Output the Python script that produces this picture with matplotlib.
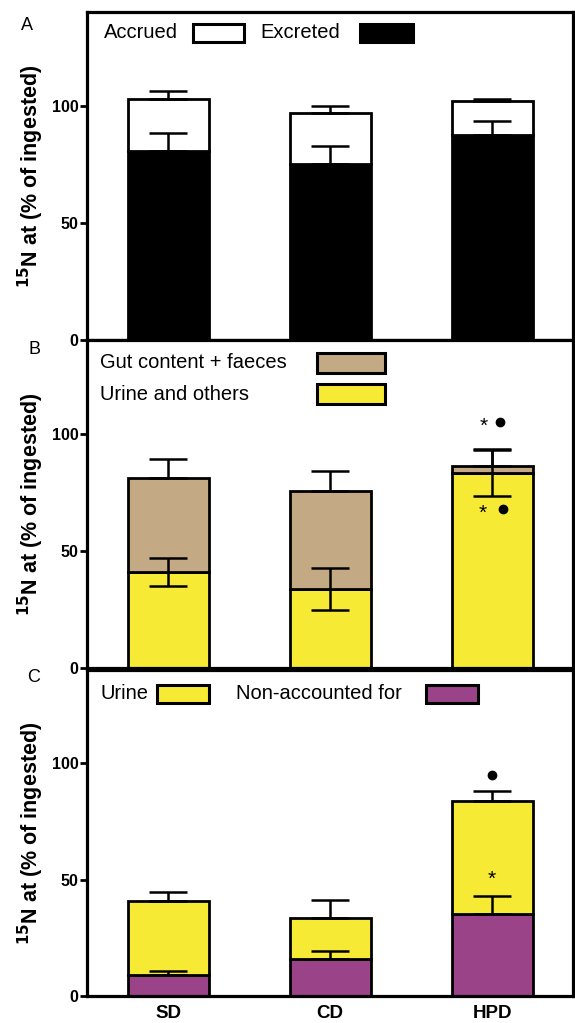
import numpy as np
import matplotlib
matplotlib.use("Agg")
import matplotlib.pyplot as plt
from matplotlib.patches import Rectangle

plt.rcParams['font.family'] = ['Liberation Sans', 'DejaVu Sans']

groups = ['SD', 'CD', 'HPD']

# panel A
excreted = [80.8, 75.0, 87.5]
excreted_err = [7.7, 7.8, 6.1]
accrued = [22.1, 22.1, 14.6]
accrued_err = [3.4, 2.9, 0.8]

# panel B
urine_oth = [40.8, 33.6, 83.4]
urine_oth_err = [6.0, 9.0, 10.0]
gut = [40.2, 41.9, 2.8]
gut_err = [8.2, 8.7, 7.0]

# panel C
nonacc = [9.0, 15.7, 35.1]
nonacc_err = [1.9, 3.6, 8.0]
urine = [31.9, 17.6, 48.6]
urine_err = [3.6, 7.8, 4.4]

# significance marks: (x, y, symbol)
marks_B = [(1.95, 104.5, '*'), (2.05, 105.0, 'dot'),
           (1.94, 67.5, '*'), (2.07, 68.0, 'dot')]
marks_C = [(2.0, 94.8, 'dot'), (2.0, 51.5, '*')]

TAN = '#c4aa84'
YEL = '#f7ea35'
PUR = '#9a4388'

W, H = 575, 1023
fig = plt.figure(figsize=(W / 100, H / 100), dpi=100)

left_px, right_px = 87, 573
panels_px = [(12, 340), (340, 668), (670, 996)]
axes = []
for top, bot in panels_px:
    ax = fig.add_axes([left_px / W, 1 - bot / H, (right_px - left_px) / W, (bot - top) / H])
    axes.append(ax)

x = np.arange(len(groups))


def style(ax, last):
    ax.set_xlim(-0.5, 2.5)
    ax.set_ylim(0, 140)
    ax.set_yticks([0, 50, 100])
    for s in ax.spines.values():
        s.set_linewidth(2.3)
    ax.tick_params(axis='y', length=5, width=2, pad=1)
    for lab in ax.get_yticklabels():
        lab.set_fontweight('bold')
        lab.set_fontsize(11.5)
    if last:
        ax.set_xticks(x)
        ax.set_xticklabels(groups, fontsize=13.5, fontweight='bold')
        ax.tick_params(axis='x', length=0, pad=6.5)
    else:
        ax.set_xticks([])
    ax.set_ylabel('$\\mathbf{^{15}}$N at (% of ingested)', fontsize=15.5,
                  fontweight='bold')
    ax.yaxis.set_label_coords(-0.085, 0.5)


def stack(ax, low, low_err, high, high_err, c_low, c_high, low_both=False):
    ax.bar(x, low, width=0.5, color=c_low, edgecolor='black', linewidth=2, zorder=2)
    ax.bar(x, high, width=0.5, bottom=low, color=c_high, edgecolor='black',
           linewidth=2, zorder=2)
    tot = np.array(low) + np.array(high)
    ax.errorbar(x, tot, yerr=[np.zeros(3), high_err], fmt='none', ecolor='black',
                elinewidth=1.8, capsize=14, capthick=1.8, zorder=3)
    lo = low_err if low_both else np.zeros(3)
    ax.errorbar(x, low, yerr=[lo, low_err], fmt='none', ecolor='black',
                elinewidth=1.8, capsize=14, capthick=1.8, zorder=3)


def legend_px(ax, items, top):
    # items: (label, text_x, box_x0, box_x1, y0, y1, color)
    for label, tx, bx0, bx1, y0, y1, col in items:
        def ax_x(p):
            return (p - left_px) / (right_px - left_px)

        def ax_y(p):
            return 1 - (p - top) / 328
        ax.text(ax_x(tx), ax_y((y0 + y1) / 2), label, transform=ax.transAxes,
                fontsize=14.5, va='center', ha='left')
        ax.add_patch(Rectangle((ax_x(bx0), ax_y(y1)), ax_x(bx1) - ax_x(bx0),
                               ax_y(y0) - ax_y(y1), transform=ax.transAxes,
                               facecolor=col, edgecolor='black', linewidth=2.2,
                               clip_on=False))


def marks(ax, ms):
    for mx, my, sym in ms:
        if sym == 'dot':
            ax.plot(mx, my, 'o', color='black', ms=6, zorder=4)
        else:
            ax.text(mx, my - 1.5, '*', ha='center', va='center', fontsize=15, zorder=4)


axA, axB, axC = axes
stack(axA, excreted, excreted_err, accrued, accrued_err, 'black', 'white')
stack(axB, urine_oth, urine_oth_err, gut, gut_err, YEL, TAN, low_both=True)
stack(axC, nonacc, nonacc_err, urine, urine_err, PUR, YEL)
marks(axB, marks_B)
marks(axC, marks_C)

style(axA, False)
style(axB, False)
style(axC, True)

legend_px(axA, [('Accrued', 104, 193, 244, 24, 42, 'white'),
                ('Excreted', 260, 360, 413, 24, 42, 'black')], 12)
legend_px(axB, [('Gut content + faeces', 100, 317, 385, 353, 373, TAN),
                ('Urine and others', 100, 317, 385, 384, 404, YEL)], 340)
legend_px(axC, [('Urine', 101, 157, 209, 685, 703, YEL),
                ('Non-accounted for', 236, 426, 478, 685, 703, PUR)], 670)

for lab, (px, py) in zip(['A', 'B', 'C'], [(27, 25), (34, 350), (34, 678)]):
    fig.text(px / W, 1 - py / H, lab, fontsize=13, ha='center', va='center')

fig.savefig('out.png', dpi=100)
